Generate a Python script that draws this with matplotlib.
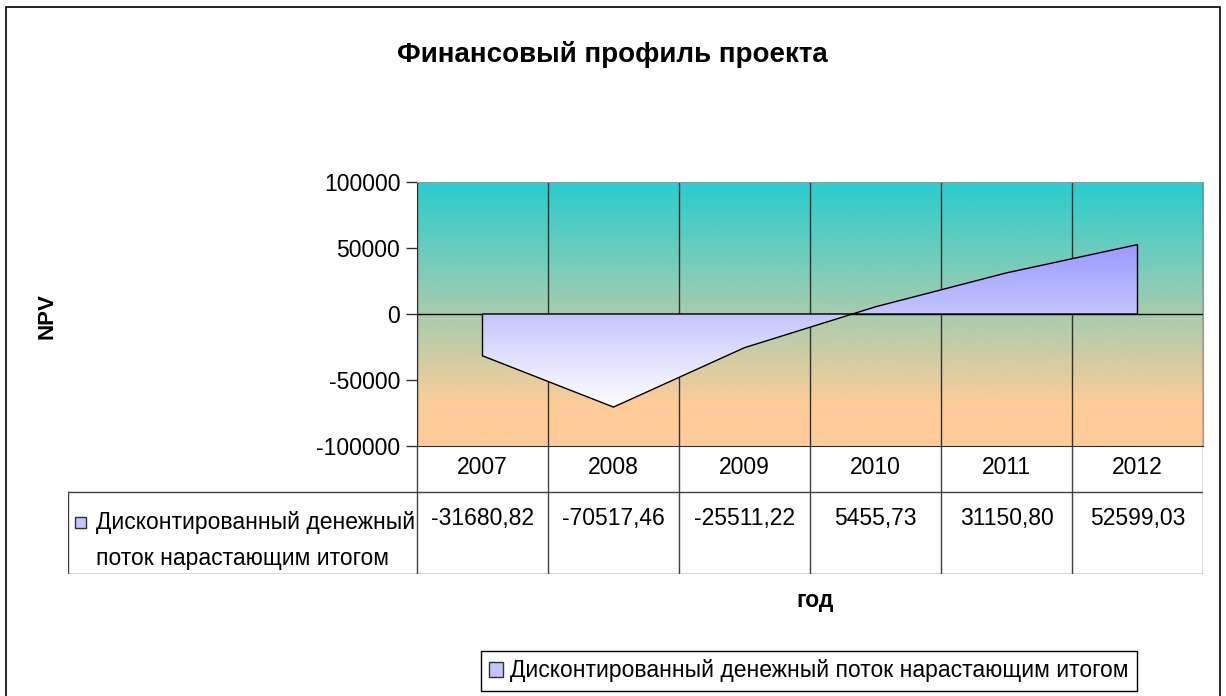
import numpy as np
import matplotlib
matplotlib.use("Agg")
import matplotlib.pyplot as plt
from matplotlib.colors import LinearSegmentedColormap
from matplotlib.patches import Polygon, Rectangle, Patch

plt.rcParams['font.family'] = ['Liberation Sans', 'DejaVu Sans']

# data
years = ['2007', '2008', '2009', '2010', '2011', '2012']
npv = [-31680.82, -70517.46, -25511.22, 5455.73, 31150.80, 52599.03]
npv_labels = ['-31680,82', '-70517,46', '-25511,22', '5455,73', '31150,80', '52599,03']
series_name = 'Дисконтированный денежный поток нарастающим итогом'
series_name_lines = ['Дисконтированный денежный', 'поток нарастающим итогом']
y_ticks = [-100000, -50000, 0, 50000, 100000]

W, H = 1226, 696
fs = 16.5

fig = plt.figure(figsize=(W / 100, H / 100), dpi=100)

# pixel layout of the plot area
px_left, px_right, px_top, px_bottom = 417, 1203, 182, 446
ax = fig.add_axes([px_left / W, 1 - px_bottom / H, (px_right - px_left) / W, (px_bottom - px_top) / H])

x = np.arange(len(years))
ax.set_xlim(-0.5, len(years) - 0.5)
ax.set_ylim(y_ticks[0], y_ticks[-1])

# background gradient: peach at the bottom, teal at the top
bg_cmap = LinearSegmentedColormap.from_list(
    'bg', [(0, '#FFCC99'), (0.15, '#FFCC99'), (0.96, '#33CCCC'), (1, '#33CCCC')])
grad = np.linspace(0, 1, 256).reshape(-1, 1)
ax.imshow(grad, extent=[-0.5, len(years) - 0.5, y_ticks[0], y_ticks[-1]], origin='lower',
          aspect='auto', cmap=bg_cmap, zorder=0)

# vertical grid at category borders, zero line
ax.set_xticks(np.arange(-0.5, len(years), 1), minor=True)
ax.set_xticks([])
ax.tick_params(axis='x', which='minor', length=0)
ax.grid(which='minor', axis='x', color='#303030', lw=1, zorder=1)
ax.axhline(0, color='black', lw=1, zorder=1)

# area with white -> lavender gradient
verts = np.vstack([[x[0], 0], np.column_stack([x, npv]), [x[-1], 0]])
area = Polygon(verts, closed=True, facecolor='none', edgecolor='black', lw=1, zorder=3)
ax.add_patch(area)
area_cmap = LinearSegmentedColormap.from_list('area', ['#FFFFFF', '#9999FF'])
im = ax.imshow(grad, extent=[x[0], x[-1], min(npv), max(npv)], origin='lower',
               aspect='auto', cmap=area_cmap, zorder=2)
im.set_clip_path(area)

ax.set_yticks(y_ticks)
ax.set_yticklabels([str(v) for v in y_ticks], fontsize=fs)
ax.tick_params(axis='y', direction='out', length=8, width=1, color='#303030', pad=4)
ax.spines['left'].set_color('#303030')
ax.spines['bottom'].set_color('#303030')
ax.spines['top'].set_color('#999999')
ax.spines['right'].set_color('#999999')

fig.text(47 / W, 1 - 316 / H, 'NPV', rotation=90, ha='center', va='center',
         fontsize=16, fontweight='bold')

# data table below the plot
tab_left, tab_bottom = 68, 574
head_bottom = 492
col_w = (px_right - px_left) / len(years)
label_left = -0.5 - (px_left - tab_left) / col_w
tab = fig.add_axes([tab_left / W, 1 - tab_bottom / H, (px_right - tab_left) / W, (tab_bottom - px_bottom) / H])
tab.set_xlim(label_left, len(years) - 0.5)
tab.set_ylim(tab_bottom - px_bottom, 0)
tab.axis('off')
h1 = head_bottom - px_bottom
h2 = tab_bottom - px_bottom
lc = '#404040'
for b in np.arange(-0.5, len(years), 1):
    tab.plot([b, b], [0, h2], color=lc, lw=1)
tab.plot([label_left, label_left], [h1, h2], color=lc, lw=1)
tab.plot([label_left, len(years) - 0.5], [h1, h1], color=lc, lw=1)
tab.plot([label_left, len(years) - 0.5], [h2 - 0.5, h2 - 0.5], color=lc, lw=1)
for xi, yr, lab in zip(x, years, npv_labels):
    tab.text(xi, 22, yr, ha='center', va='center', fontsize=fs)
    tab.text(xi, 73, lab, ha='center', va='center', fontsize=fs)
for i, line in enumerate(series_name_lines):
    tab.text(label_left + 28 / col_w, 76 + 36 * i, line, ha='left', va='center', fontsize=fs)
tab.add_patch(Rectangle((label_left + 7 / col_w, 71), 11 / col_w, 11,
                        facecolor='#C4C4FF', edgecolor='#303030', lw=1))

fig.text(612 / W, 1 - 55 / H, 'Финансовый профиль проекта', ha='center', va='center',
         fontsize=20, fontweight='bold')
fig.text(815 / W, 1 - 600 / H, 'год', ha='center', va='center', fontsize=fs, fontweight='bold')

leg = fig.legend(handles=[Patch(facecolor='#C4C4FF', edgecolor='#303030', label=series_name)],
                 loc='center', bbox_to_anchor=(809 / W, 1 - 671 / H), fontsize=fs,
                 fancybox=False, edgecolor='black', framealpha=1, handlelength=0.6,
                 handleheight=0.6, handletextpad=0.3, borderpad=0.35)
leg.get_frame().set_linewidth(1)

# outer chart border
fig.patches.append(Rectangle((6 / W, -0.05), (1220 - 6) / W, 1.05 - 7 / H, transform=fig.transFigure,
                             facecolor='none', edgecolor='black', lw=1.2))

fig.savefig('out.png', dpi=100)
